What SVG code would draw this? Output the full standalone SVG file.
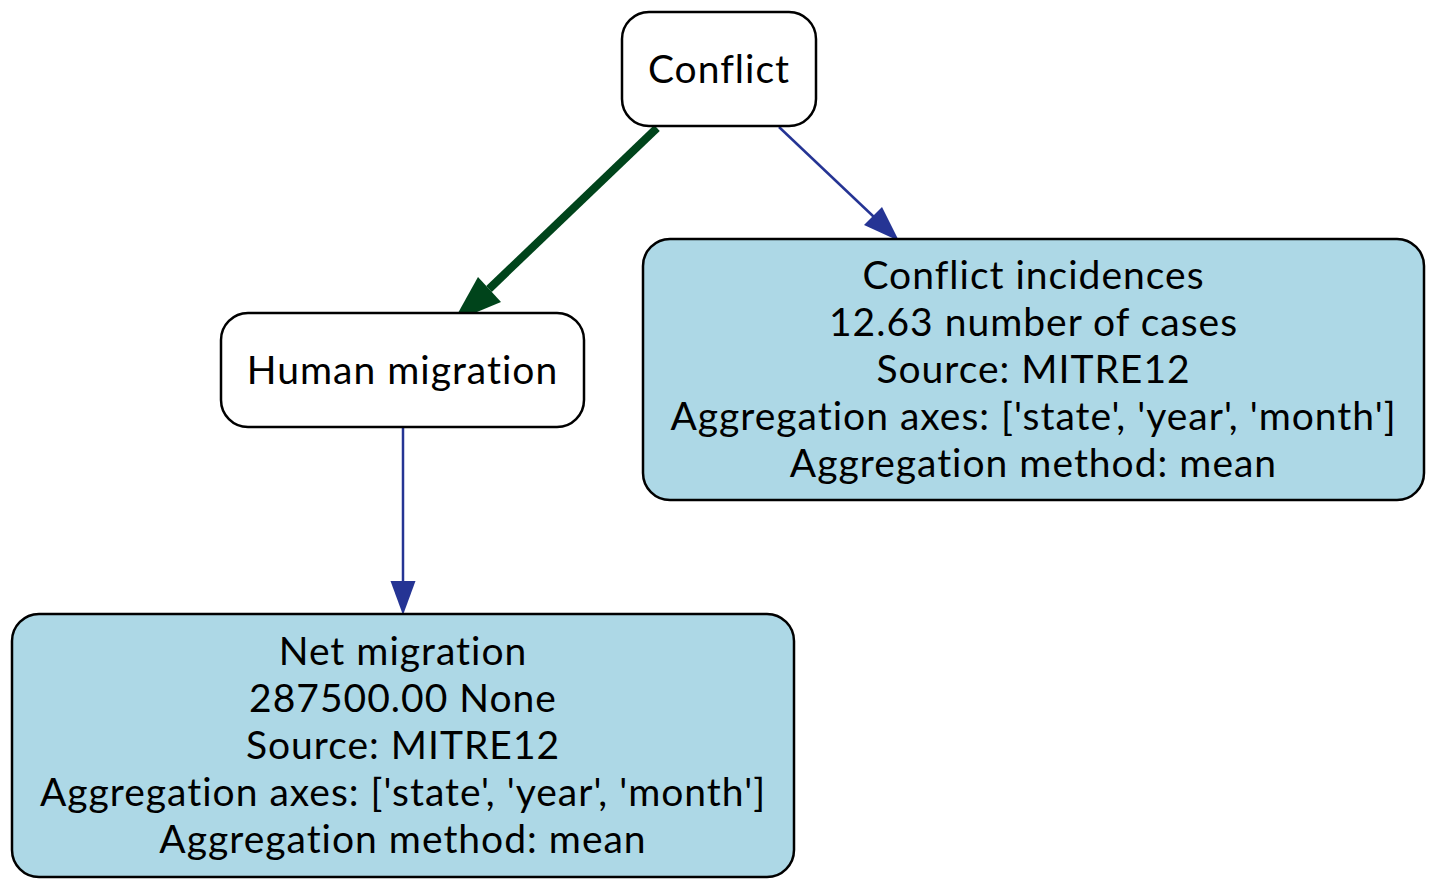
<svg xmlns="http://www.w3.org/2000/svg" width="1438" height="889" viewBox="0 0 1438 889">
<style>
.box{stroke:#000;stroke-width:2.5}
.w{fill:#fff}
.b{fill:#add8e6}
text{font-family:"Lato","Open Sans","DejaVu Sans",sans-serif;font-size:39px;letter-spacing:1px;fill:#000;text-anchor:middle;dominant-baseline:central}
</style>
<rect width="1438" height="889" fill="#fff"/>
<g id="connectors">
<path d="M657,128 L489,289" stroke="#00441b" stroke-width="8" fill="none"/>
<polygon points="453,322 478,277 501,302" fill="#00441b"/>
<path d="M779,127 L874,217" stroke="#253494" stroke-width="2.5" fill="none"/>
<polygon points="899,241 864,225 882,207" fill="#253494"/>
<path d="M403,428 L403,582" stroke="#253494" stroke-width="2.5" fill="none"/>
<polygon points="403,615 390.5,581 415.5,581" fill="#253494"/>
</g>
<g id="conflict">
<rect class="box w" x="622" y="12" width="194" height="114" rx="27"/>
<text x="719" y="68">Conflict</text>
</g>
<g id="human_migration">
<rect class="box w" x="221" y="313" width="363" height="114" rx="27"/>
<text x="402.5" y="369">Human migration</text>
</g>
<g id="conflict_incidences">
<rect class="box b" x="643" y="239" width="781" height="261" rx="27"/>
<text x="1033.5" y="274">Conflict incidences</text>
<text x="1033.5" y="321">12.63 number of cases</text>
<text x="1033.5" y="368">Source: MITRE12</text>
<text x="1033.5" y="415">Aggregation axes: ['state', 'year', 'month']</text>
<text x="1033.5" y="462">Aggregation method: mean</text>
</g>
<g id="net_migration">
<rect class="box b" x="12" y="614" width="782" height="263" rx="27"/>
<text x="403" y="650">Net migration</text>
<text x="403" y="697">287500.00 None</text>
<text x="403" y="744">Source: MITRE12</text>
<text x="403" y="791">Aggregation axes: ['state', 'year', 'month']</text>
<text x="403" y="838">Aggregation method: mean</text>
</g>
</svg>
